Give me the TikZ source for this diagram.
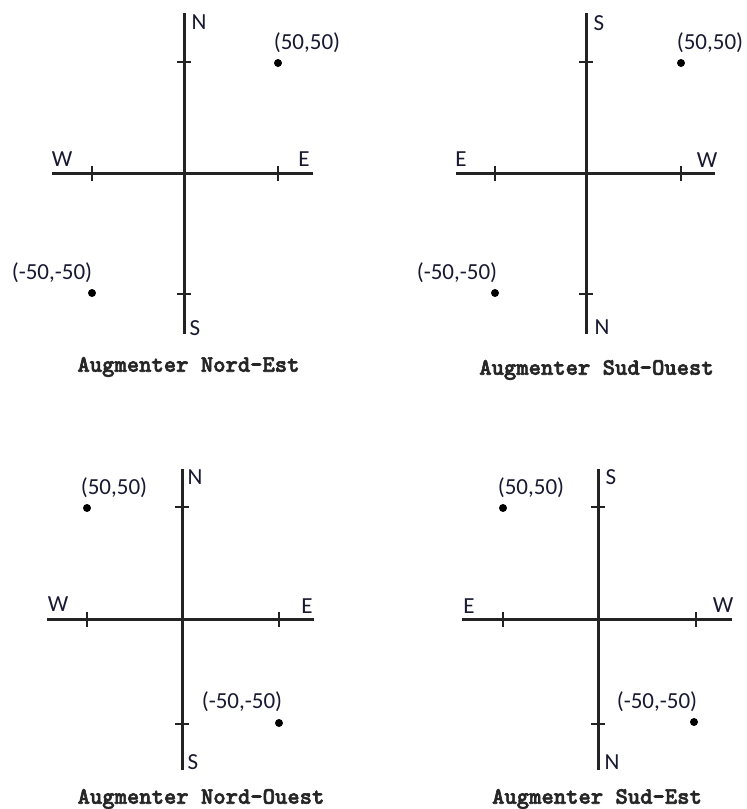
\documentclass[tikz,border=0pt]{standalone}
\usepackage{fontspec}
\newfontfamily\lblfont{Carlito}
\newfontfamily\capfont[FakeBold=2.5]{lmmonolt10-bold.otf}
\definecolor{lblcol}{RGB}{25,25,50}
\definecolor{axcol}{RGB}{35,35,35}
\begin{document}
\begin{tikzpicture}[x=1pt,y=-1pt,
  axis/.style={draw=axcol,line width=3pt},
  tick/.style={draw=axcol,line width=2.4pt},
  dot/.style={circle,fill=black,inner sep=0pt,minimum size=8pt},
  lbl/.style={inner sep=0pt,text=lblcol,font=\lblfont\fontsize{23}{26}\selectfont},
  captext/.style={inner sep=0pt,text=black!85,font=\capfont\fontsize{23.5}{26}\selectfont}]
\fill[white] (0,0) rectangle (747,809);
\useasboundingbox (0,0) rectangle (747,809);
% ---------- Panel 1 : Nord-Est
\draw[axis] (184,13) -- (184,334);
\draw[axis] (52,173) -- (313,173);
\draw[tick] (177,62) -- (191,62);
\draw[tick] (177,294) -- (191,294);
\draw[tick] (92,166) -- (92,181);
\draw[tick] (278,166) -- (278,181);
\node[dot] (p1a) at (278,63) {};
\node[dot] (p1b) at (92,293) {};
\node[lbl] (p1N) at (199,22) {N};
\node[lbl] (p1S) at (195,328) {S};
\node[lbl] (p1W) at (62,159) {W};
\node[lbl] (p1E) at (304,159) {E};
\node[lbl] (p1t1) at (307,43) {(50,50)};
\node[lbl] (p1t2) at (52,273) {(-50,-50)};
\node[captext] (p1c) at (188.5,367) {Augmenter Nord-Est};
% ---------- Panel 2 : Sud-Ouest
\draw[axis] (586,13) -- (586,334);
\draw[axis] (456,173) -- (715,173);
\draw[tick] (579,62) -- (593,62);
\draw[tick] (579,294) -- (593,294);
\draw[tick] (495,166) -- (495,181);
\draw[tick] (681,166) -- (681,181);
\node[dot] (p2a) at (681,63) {};
\node[dot] (p2b) at (495,293) {};
\node[lbl] (p2S) at (599,23) {S};
\node[lbl] (p2N) at (602,327) {N};
\node[lbl] (p2E) at (461,159) {E};
\node[lbl] (p2W) at (707,160) {W};
\node[lbl] (p2t1) at (710,43) {(50,50)};
\node[lbl] (p2t2) at (457,273) {(-50,-50)};
\node[captext] (p2c) at (596.5,370) {Augmenter Sud-Ouest};
% ---------- Panel 3 : Nord-Ouest
\draw[axis] (182,469) -- (182,770);
\draw[axis] (47,619) -- (314,619);
\draw[tick] (175,507) -- (189,507);
\draw[tick] (175,724) -- (189,724);
\draw[tick] (87,612) -- (87,627);
\draw[tick] (279,612) -- (279,627);
\node[dot] (p3a) at (87,508) {};
\node[dot] (p3b) at (279,723) {};
\node[lbl] (p3N) at (195,477) {N};
\node[lbl] (p3S) at (193,762) {S};
\node[lbl] (p3W) at (58,604) {W};
\node[lbl] (p3E) at (307,606) {E};
\node[lbl] (p3t1) at (114,488) {(50,50)};
\node[lbl] (p3t2) at (242,702) {(-50,-50)};
\node[captext] (p3c) at (201,799) {Augmenter Nord-Ouest};
% ---------- Panel 4 : Sud-Est
\draw[axis] (598,469) -- (598,770);
\draw[axis] (462,619) -- (732,619);
\draw[tick] (591,507) -- (605,507);
\draw[tick] (591,724) -- (605,724);
\draw[tick] (503,612) -- (503,627);
\draw[tick] (696,612) -- (696,627);
\node[dot] (p4a) at (503,508) {};
\node[dot] (p4b) at (694,722) {};
\node[lbl] (p4S) at (611,477) {S};
\node[lbl] (p4N) at (612,762) {N};
\node[lbl] (p4E) at (469,606) {E};
\node[lbl] (p4W) at (723,605) {W};
\node[lbl] (p4t1) at (531,488) {(50,50)};
\node[lbl] (p4t2) at (657,702) {(-50,-50)};
\node[captext] (p4c) at (597,799) {Augmenter Sud-Est};
\end{tikzpicture}
\end{document}
